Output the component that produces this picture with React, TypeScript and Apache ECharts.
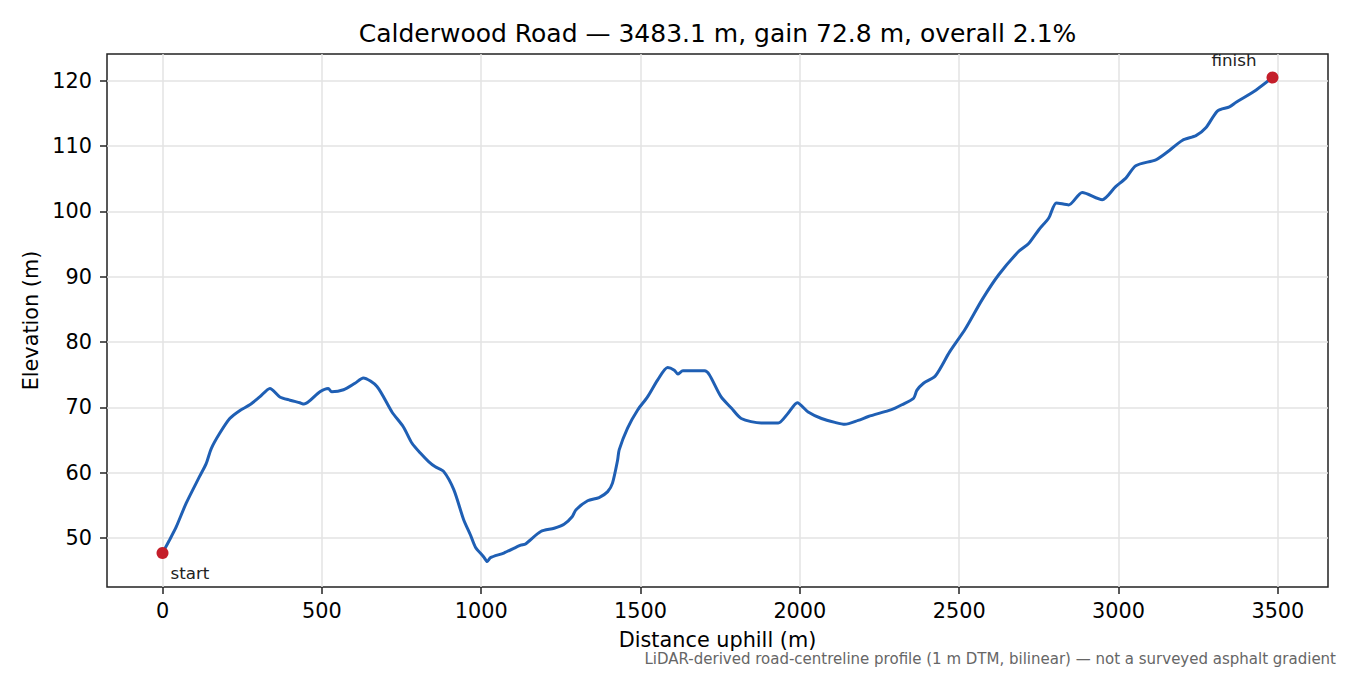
import * as echarts from "echarts"
import { useEffect, useRef } from "react"

// Road elevation profile (distance along road in m, elevation in m).
const distance = [
  0, 22, 43, 74, 116, 137, 153, 179, 211, 242, 274, 305, 337, 368, 400, 431, 444, 494, 520, 531,
  568, 604, 630, 673, 720, 756, 783, 809, 835, 856, 882, 914, 945, 966, 982, 1008, 1019, 1029, 1071,
  1124, 1139, 1187, 1229, 1260, 1286, 1297, 1334, 1370, 1397, 1412, 1428, 1433, 1459, 1491, 1522,
  1554, 1585, 1606, 1617, 1633, 1701, 1716, 1753, 1785, 1816, 1879, 1932, 1963, 1992, 2026, 2068,
  2110, 2141, 2183, 2215, 2278, 2299, 2320, 2357, 2367, 2388, 2425, 2470, 2519, 2572, 2624, 2687,
  2718, 2750, 2781, 2805, 2844, 2886, 2949, 2991, 3023, 3054, 3117, 3148, 3201, 3243, 3274, 3311,
  3348, 3369, 3432, 3483.1,
]
const elevation = [
  47.7, 49.7, 51.7, 55.3, 59.4, 61.4, 63.7, 66.0, 68.3, 69.5, 70.4, 71.6, 72.9, 71.6, 71.1, 70.7,
  70.5, 72.4, 72.9, 72.4, 72.7, 73.7, 74.5, 73.2, 69.3, 67.0, 64.5, 63.0, 61.7, 60.9, 60.2, 57.4,
  52.8, 50.5, 48.6, 47.1, 46.4, 47.0, 47.7, 48.9, 49.1, 51.0, 51.5, 52.1, 53.3, 54.3, 55.7, 56.2,
  57.1, 58.4, 61.9, 63.5, 66.8, 69.6, 71.6, 74.2, 76.1, 75.7, 75.1, 75.6, 75.6, 75.0, 71.6, 69.9,
  68.3, 67.6, 67.6, 69.1, 70.7, 69.3, 68.3, 67.7, 67.4, 68.0, 68.6, 69.5, 69.9, 70.4, 71.4, 72.6,
  73.7, 74.8, 78.5, 82.0, 86.5, 90.3, 93.9, 95.1, 97.2, 99.0, 101.3, 101.0, 102.9, 101.8, 103.8,
  105.1, 107.0, 107.9, 108.9, 110.9, 111.6, 112.8, 115.4, 116.0, 116.7, 118.6, 120.5,
]

const xTicks = [0, 500, 1000, 1500, 2000, 2500, 3000, 3500]
const yTicks = [50, 60, 70, 80, 90, 100, 110, 120]

const endLabels = ["start", "finish"]

const TITLE = "Calderwood Road — 3483.1 m, gain 72.8 m, overall 2.1%"
const NOTE = "LiDAR-derived road-centreline profile (1 m DTM, bilinear) — not a surveyed asphalt gradient"
const FONT = "DejaVu Sans"

export default function App() {
  const ref = useRef<HTMLDivElement>(null)

  useEffect(() => {
    if (!ref.current) return
    const chart = echarts.init(ref.current, null, { renderer: "svg" })

    const profile = distance.map((d, i) => [d, elevation[i]])
    const last = distance.length - 1
    const ends = [
      {
        value: [distance[0], elevation[0]],
        label: { formatter: endLabels[0], position: [14, 26], align: "left", verticalAlign: "middle" },
      },
      {
        value: [distance[last], elevation[last]],
        label: { formatter: endLabels[1], position: [-10, -12], align: "right", verticalAlign: "middle" },
      },
    ]

    const axisCommon = {
      axisLine: { show: false, onZero: false },
      axisTick: { show: true, inside: false, length: 7, lineStyle: { color: "#222", width: 1.5 } },
      splitLine: { show: true, lineStyle: { color: "#e3e3e3", width: 1.5 } },
    }
    const plain = (v: number) => String(v)

    chart.setOption({
      animation: false,
      textStyle: { fontFamily: FONT },
      title: {
        text: TITLE,
        left: 712.5,
        top: 16,
        textAlign: "center",
        textStyle: { fontFamily: FONT, fontSize: 25, fontWeight: "normal", color: "#000" },
      },
      grid: {
        left: 107,
        right: 22,
        top: 54,
        bottom: 88,
        show: true,
        borderColor: "#222",
        borderWidth: 1.5,
        backgroundColor: "transparent",
      },
      xAxis: {
        type: "value",
        min: -174.2,
        max: 3657.3,
        name: "Distance uphill (m)",
        nameLocation: "middle",
        nameGap: 42,
        nameTextStyle: { fontFamily: FONT, fontSize: 20.8, color: "#000" },
        ...axisCommon,
        axisTick: { ...axisCommon.axisTick, customValues: xTicks },
        axisLabel: {
          customValues: xTicks,
          formatter: plain,
          margin: 13,
          fontFamily: FONT,
          fontSize: 20.8,
          color: "#000",
        },
      },
      yAxis: {
        type: "value",
        min: 42.5,
        max: 124.1,
        name: "Elevation (m)",
        nameLocation: "middle",
        nameGap: 60,
        nameTextStyle: { fontFamily: FONT, fontSize: 20.8, color: "#000" },
        ...axisCommon,
        axisTick: { ...axisCommon.axisTick, customValues: yTicks },
        axisLabel: {
          customValues: yTicks,
          formatter: plain,
          margin: 15,
          fontFamily: FONT,
          fontSize: 20.8,
          color: "#000",
        },
      },
      graphic: [
        {
          type: "text",
          right: 14,
          top: 651,
          style: { text: NOTE, fontFamily: FONT, fontSize: 15, fill: "#666" },
        },
      ],
      series: [
        {
          type: "line",
          data: profile,
          showSymbol: false,
          smooth: 0.25,
          lineStyle: { color: "#1f5fb4", width: 3 },
          z: 2,
        },
        {
          type: "scatter",
          data: ends,
          symbolSize: 12,
          itemStyle: { color: "#c41e2a", opacity: 1 },
          label: { show: true, fontFamily: FONT, fontSize: 16.7, color: "#222" },
          z: 3,
        },
      ],
    })

    return () => {
      chart.dispose()
    }
  }, [])

  return <div ref={ref} style={{ position: "absolute", left: 0, top: 0, width: 1350, height: 675 }} />
}
